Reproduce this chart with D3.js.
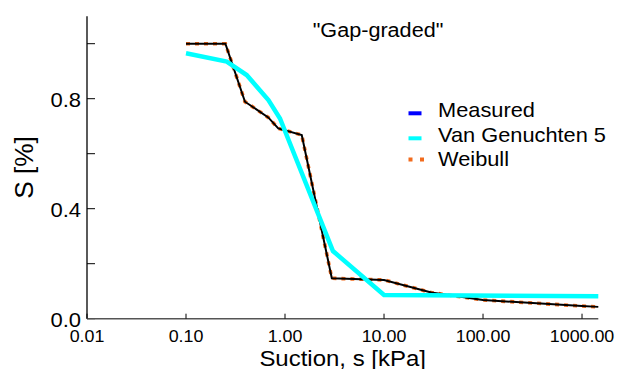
<!DOCTYPE html>
<html>
<head>
<meta charset="utf-8">
<script src="https://cdn.jsdelivr.net/npm/d3@7"></script>
<style>
  html, body { margin: 0; padding: 0; background: #fff; }
  svg { display: block; }
  text { font-family: "Liberation Sans", Arial, sans-serif; fill: #000; }
</style>
</head>
<body>
<svg id="chart" width="625" height="369"></svg>
<script>
// ---- Data ----
const suctionMeasured = [0.1, 0.25, 0.394, 0.677, 0.855, 1.476, 2.97, 10, 30, 100, 1000, 1460];
const satMeasured     = [1.0, 1.0, 0.789, 0.732, 0.692, 0.668, 0.147, 0.141, 0.095, 0.068, 0.046, 0.043];

const suctionVG = [0.1, 0.258, 0.41, 0.68, 0.89, 3.05, 10, 1460];
const satVG     = [0.965, 0.935, 0.886, 0.795, 0.728, 0.246, 0.086, 0.082];

const suctionWeibull = [0.1, 0.25, 0.394, 0.677, 0.855, 1.476, 2.97, 10, 30, 100, 1000, 1460];
const satWeibull     = [1.0, 1.0, 0.789, 0.732, 0.692, 0.668, 0.147, 0.141, 0.095, 0.068, 0.046, 0.043];

const xTickValues = [0.01, 0.1, 1, 10, 100, 1000];
const yTickMajor = [0, 0.4, 0.8];
const yTickMinor = [0.2, 0.6, 1.0];

const seriesNames = ["Measured", "Van Genuchten 5", "Weibull"];
const titleText = "\"Gap-graded\"";
const xLabel = "Suction, s [kPa]";
const yLabel = "S [%]";

// ---- Layout ----
const svg = d3.select("#chart");
const x = d3.scaleLog().domain([0.01, 1460]).range([87, 598.3]);
const y = d3.scaleLinear().domain([0, 1.1]).range([318.7, 16.2]);

function stretched(sel, px, py, sx) {
  return sel.attr("transform", "translate(" + px + "," + py + ") scale(" + sx + ",1)");
}

// y axis line
svg.append("line")
  .attr("x1", x(0.01)).attr("x2", x(0.01))
  .attr("y1", y(1.1)).attr("y2", y(0))
  .attr("stroke", "#000").attr("stroke-width", 1.3);

// y ticks (inward)
svg.selectAll(".ytick").data(yTickMajor.concat(yTickMinor)).enter()
  .append("line")
  .attr("x1", x(0.01)).attr("x2", x(0.01) + 8)
  .attr("y1", d => y(d)).attr("y2", d => y(d))
  .attr("stroke", "#000").attr("stroke-width", 1);

svg.selectAll(".ylab").data(yTickMajor).enter()
  .append("text")
  .attr("transform", d => "translate(81," + (y(d) + 1) + ") scale(1.1,1)")
  .attr("dy", "0.36em")
  .attr("text-anchor", "end")
  .style("font-size", "20px")
  .text(d => d3.format(".1f")(d));

// x axis line
svg.append("line")
  .attr("x1", x(0.01)).attr("x2", x(1460))
  .attr("y1", y(0)).attr("y2", y(0))
  .attr("stroke", "#555").attr("stroke-width", 1.6);

svg.selectAll(".xtick").data(xTickValues).enter()
  .append("line")
  .attr("x1", d => x(d)).attr("x2", d => x(d))
  .attr("y1", y(0)).attr("y2", y(0) - 5)
  .attr("stroke", "#000").attr("stroke-width", 1);

svg.selectAll(".xlab").data(xTickValues).enter()
  .append("text")
  .attr("transform", d => "translate(" + x(d) + ",341.5) scale(1.05,1)")
  .attr("text-anchor", "middle")
  .style("font-size", "17px")
  .text(d => d3.format(".2f")(d));

// axis titles
stretched(svg.append("text"), (x(0.01) + x(1460)) / 2, 365.5, 1.09)
  .attr("text-anchor", "middle")
  .style("font-size", "22px")
  .text(xLabel);

svg.append("text")
  .attr("transform", "translate(33," + ((y(0) + y(1.1)) / 2) + ") rotate(-90) scale(1.05,1)")
  .attr("text-anchor", "middle")
  .style("font-size", "25px")
  .text(yLabel);

// chart title
stretched(svg.append("text"), 378, 37, 1.03)
  .attr("text-anchor", "middle")
  .style("font-size", "21px")
  .text(titleText);

// ---- Series ----
const line = d3.line().x(d => x(d[0])).y(d => y(d[1]));

svg.append("path")
  .datum(d3.zip(suctionWeibull, satWeibull))
  .attr("d", line)
  .attr("fill", "none")
  .attr("stroke", "#f26b1d")
  .attr("stroke-width", 3.6)
  .attr("stroke-dasharray", "4,5");

svg.append("path")
  .datum(d3.zip(suctionMeasured, satMeasured))
  .attr("d", line)
  .attr("fill", "none")
  .attr("stroke", "#000")
  .attr("stroke-width", 2)
  .attr("stroke-linejoin", "miter");

svg.append("path")
  .datum(d3.zip(suctionVG, satVG))
  .attr("d", line)
  .attr("fill", "none")
  .attr("stroke", "#00ffff")
  .attr("stroke-width", 4.5)
  .attr("stroke-linejoin", "miter");

// ---- Legend ----
const legendY = [113.3, 138.3, 159.5];
const legendTextY = [117.3, 141.7, 165.7];
const lg = svg.append("g");
lg.append("line").attr("x1", 408.5).attr("x2", 421.5)
  .attr("y1", legendY[0]).attr("y2", legendY[0])
  .attr("stroke", "#0000ff").attr("stroke-width", 4);
lg.append("line").attr("x1", 408.5).attr("x2", 421.5)
  .attr("y1", legendY[1]).attr("y2", legendY[1])
  .attr("stroke", "#00ffff").attr("stroke-width", 4);
lg.append("line").attr("x1", 408.5).attr("x2", 424)
  .attr("y1", legendY[2]).attr("y2", legendY[2])
  .attr("stroke", "#f26b1d").attr("stroke-width", 4)
  .attr("stroke-dasharray", "4,7.5");

lg.selectAll("text").data(seriesNames).enter()
  .append("text")
  .attr("transform", (d, i) => "translate(438," + legendTextY[i] + ") scale(1.09,1)")
  .style("font-size", "20px")
  .text(d => d);
</script>
</body>
</html>
